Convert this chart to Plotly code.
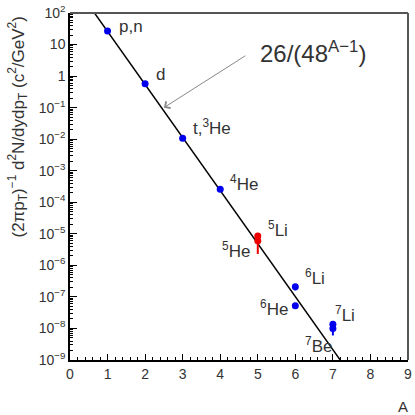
'''
Spectre de production des noyaux légers en fonction du nombre de masse A.
'''

import plotly.graph_objects as go

# noyaux stables (bleu)
A_bleu = [1, 2, 3, 4, 6, 6, 7, 7]
y_bleu = [27, 0.575, 0.0107, 2.6e-4, 2.1e-7, 5.2e-8, 1.35e-8, 1.0e-8]
err_bleu = [0, 0, 0.002, 0, 0.5e-7, 0, 0, 0.4e-8]

# noyaux instables (rouge)
A_rouge = [5, 5]
y_rouge = [8.5e-6, 6.0e-6]
err_rouge = [0, 3.7e-6]

# ajustement 26/(48^(A-1))
norm = 26
base = 48
A_fit = [0.5, 7.5]

noms = ['p,n', 'd', 't,<sup>3</sup>He', '<sup>4</sup>He', '<sup>5</sup>Li', '<sup>5</sup>He',
        '<sup>6</sup>Li', '<sup>6</sup>He', '<sup>7</sup>Li', '<sup>7</sup>Be']
pos_noms = [(1.26, 1.56), (2.24, 0.04), (3.21, -1.6), (4.21, -3.39), (5.21, -4.85),
            (4.0, -5.51), (6.21, -6.36), (5.0, -7.34), (7.0, -7.53), (6.21, -8.54)]

decades = list(range(-9, 3))
texte_ticks = []
for d in decades:
    if d == 0:
        texte_ticks.append('1')
    elif d == 1:
        texte_ticks.append('10')
    else:
        texte_ticks.append('10<sup>' + str(d).replace('-', '−') + '</sup>')

gris = '#333333'
police = 'Liberation Sans'

fig = go.Figure()
fig.add_trace(go.Scatter(x=A_fit, y=[norm / base ** (a - 1) for a in A_fit],
                         mode='lines', line=dict(color='black', width=1.5)))
fig.add_trace(go.Scatter(x=A_bleu, y=y_bleu, mode='markers',
                         marker=dict(color='#0000ee', size=7),
                         error_y=dict(type='data', symmetric=False, array=[0] * len(err_bleu),
                                      arrayminus=err_bleu, color='#0000ee', thickness=2, width=0)))
fig.add_trace(go.Scatter(x=A_rouge, y=y_rouge, mode='markers',
                         marker=dict(color='#ee0000', size=7),
                         error_y=dict(type='data', symmetric=False, array=[0] * len(err_rouge),
                                      arrayminus=err_rouge, color='#ee0000', thickness=2, width=0)))

for nom, (px_, py_) in zip(noms, pos_noms):
    fig.add_annotation(x=px_, y=py_, xref='x', yref='y', text=nom, showarrow=False,
                       xanchor='left', yanchor='middle',
                       font=dict(family=police, size=17, color=gris))

fig.add_annotation(x=5.0, y=0.77, xref='x', yref='y', text='26/(48<sup>A−1</sup>)',
                   showarrow=False, xanchor='left', yanchor='middle',
                   font=dict(family=police, size=24, color=gris))
fig.add_annotation(x=2.5, y=-1.0, xref='x', yref='y', ax=4.71, ay=0.675, axref='x', ayref='y',
                   text='', showarrow=True, arrowhead=4, arrowsize=1.6, arrowwidth=1,
                   arrowcolor='#888888')

# titre axe y et label A
fig.add_annotation(x=0, y=0.67, xref='paper', yref='paper', xshift=-52,
                   text='(2πp<sub>T</sub>)<sup>−1</sup> d<sup>2</sup>N/dydp<sub>T</sub> (c<sup>2</sup>/GeV<sup>2</sup>)',
                   textangle=-90, showarrow=False, xanchor='center', yanchor='middle',
                   font=dict(family=police, size=17, color=gris))
fig.add_annotation(x=1, y=0, xref='paper', yref='paper', xshift=-5, yshift=-46,
                   text='A', showarrow=False, xanchor='center', yanchor='middle',
                   font=dict(family=police, size=15, color=gris))

# cadre haut et droit
fig.add_shape(type='line', xref='paper', yref='paper', x0=0, x1=1, y0=1, y1=1,
              line=dict(color='#555555', width=2))
fig.add_shape(type='line', xref='paper', yref='paper', x0=1, x1=1, y0=0, y1=1,
              line=dict(color='#555555', width=2))

mineurs_y = [k * 10.0 ** d for d in range(-9, 2) for k in range(2, 10)]

fig.update_layout(
    width=415, height=415,
    margin=dict(l=70, r=3, t=11, b=55),
    paper_bgcolor='white', plot_bgcolor='white',
    showlegend=False,
    xaxis=dict(range=[0, 9], showgrid=False, zeroline=False, showline=True,
               linecolor='black', linewidth=1.5, ticks='inside', ticklen=6,
               tickcolor='black', dtick=1, tick0=0, ticklabeloverflow='allow',
               tickfont=dict(family=police, size=14, color=gris),
               minor=dict(ticks='inside', ticklen=3, dtick=0.2, tickcolor='black')),
    yaxis=dict(type='log', range=[-9, 2], showgrid=False, zeroline=False, showline=True,
               linecolor='black', linewidth=1.5, ticks='inside', ticklen=7,
               tickcolor='black', tickvals=[10.0 ** d for d in decades], ticktext=texte_ticks,
               tickfont=dict(family=police, size=14, color=gris),
               minor=dict(ticks='inside', ticklen=3, tickvals=mineurs_y, tickcolor='black')),
)

fig.write_html('out.html', config={'displayModeBar': False},
               post_script="document.body.style.margin='0';")
